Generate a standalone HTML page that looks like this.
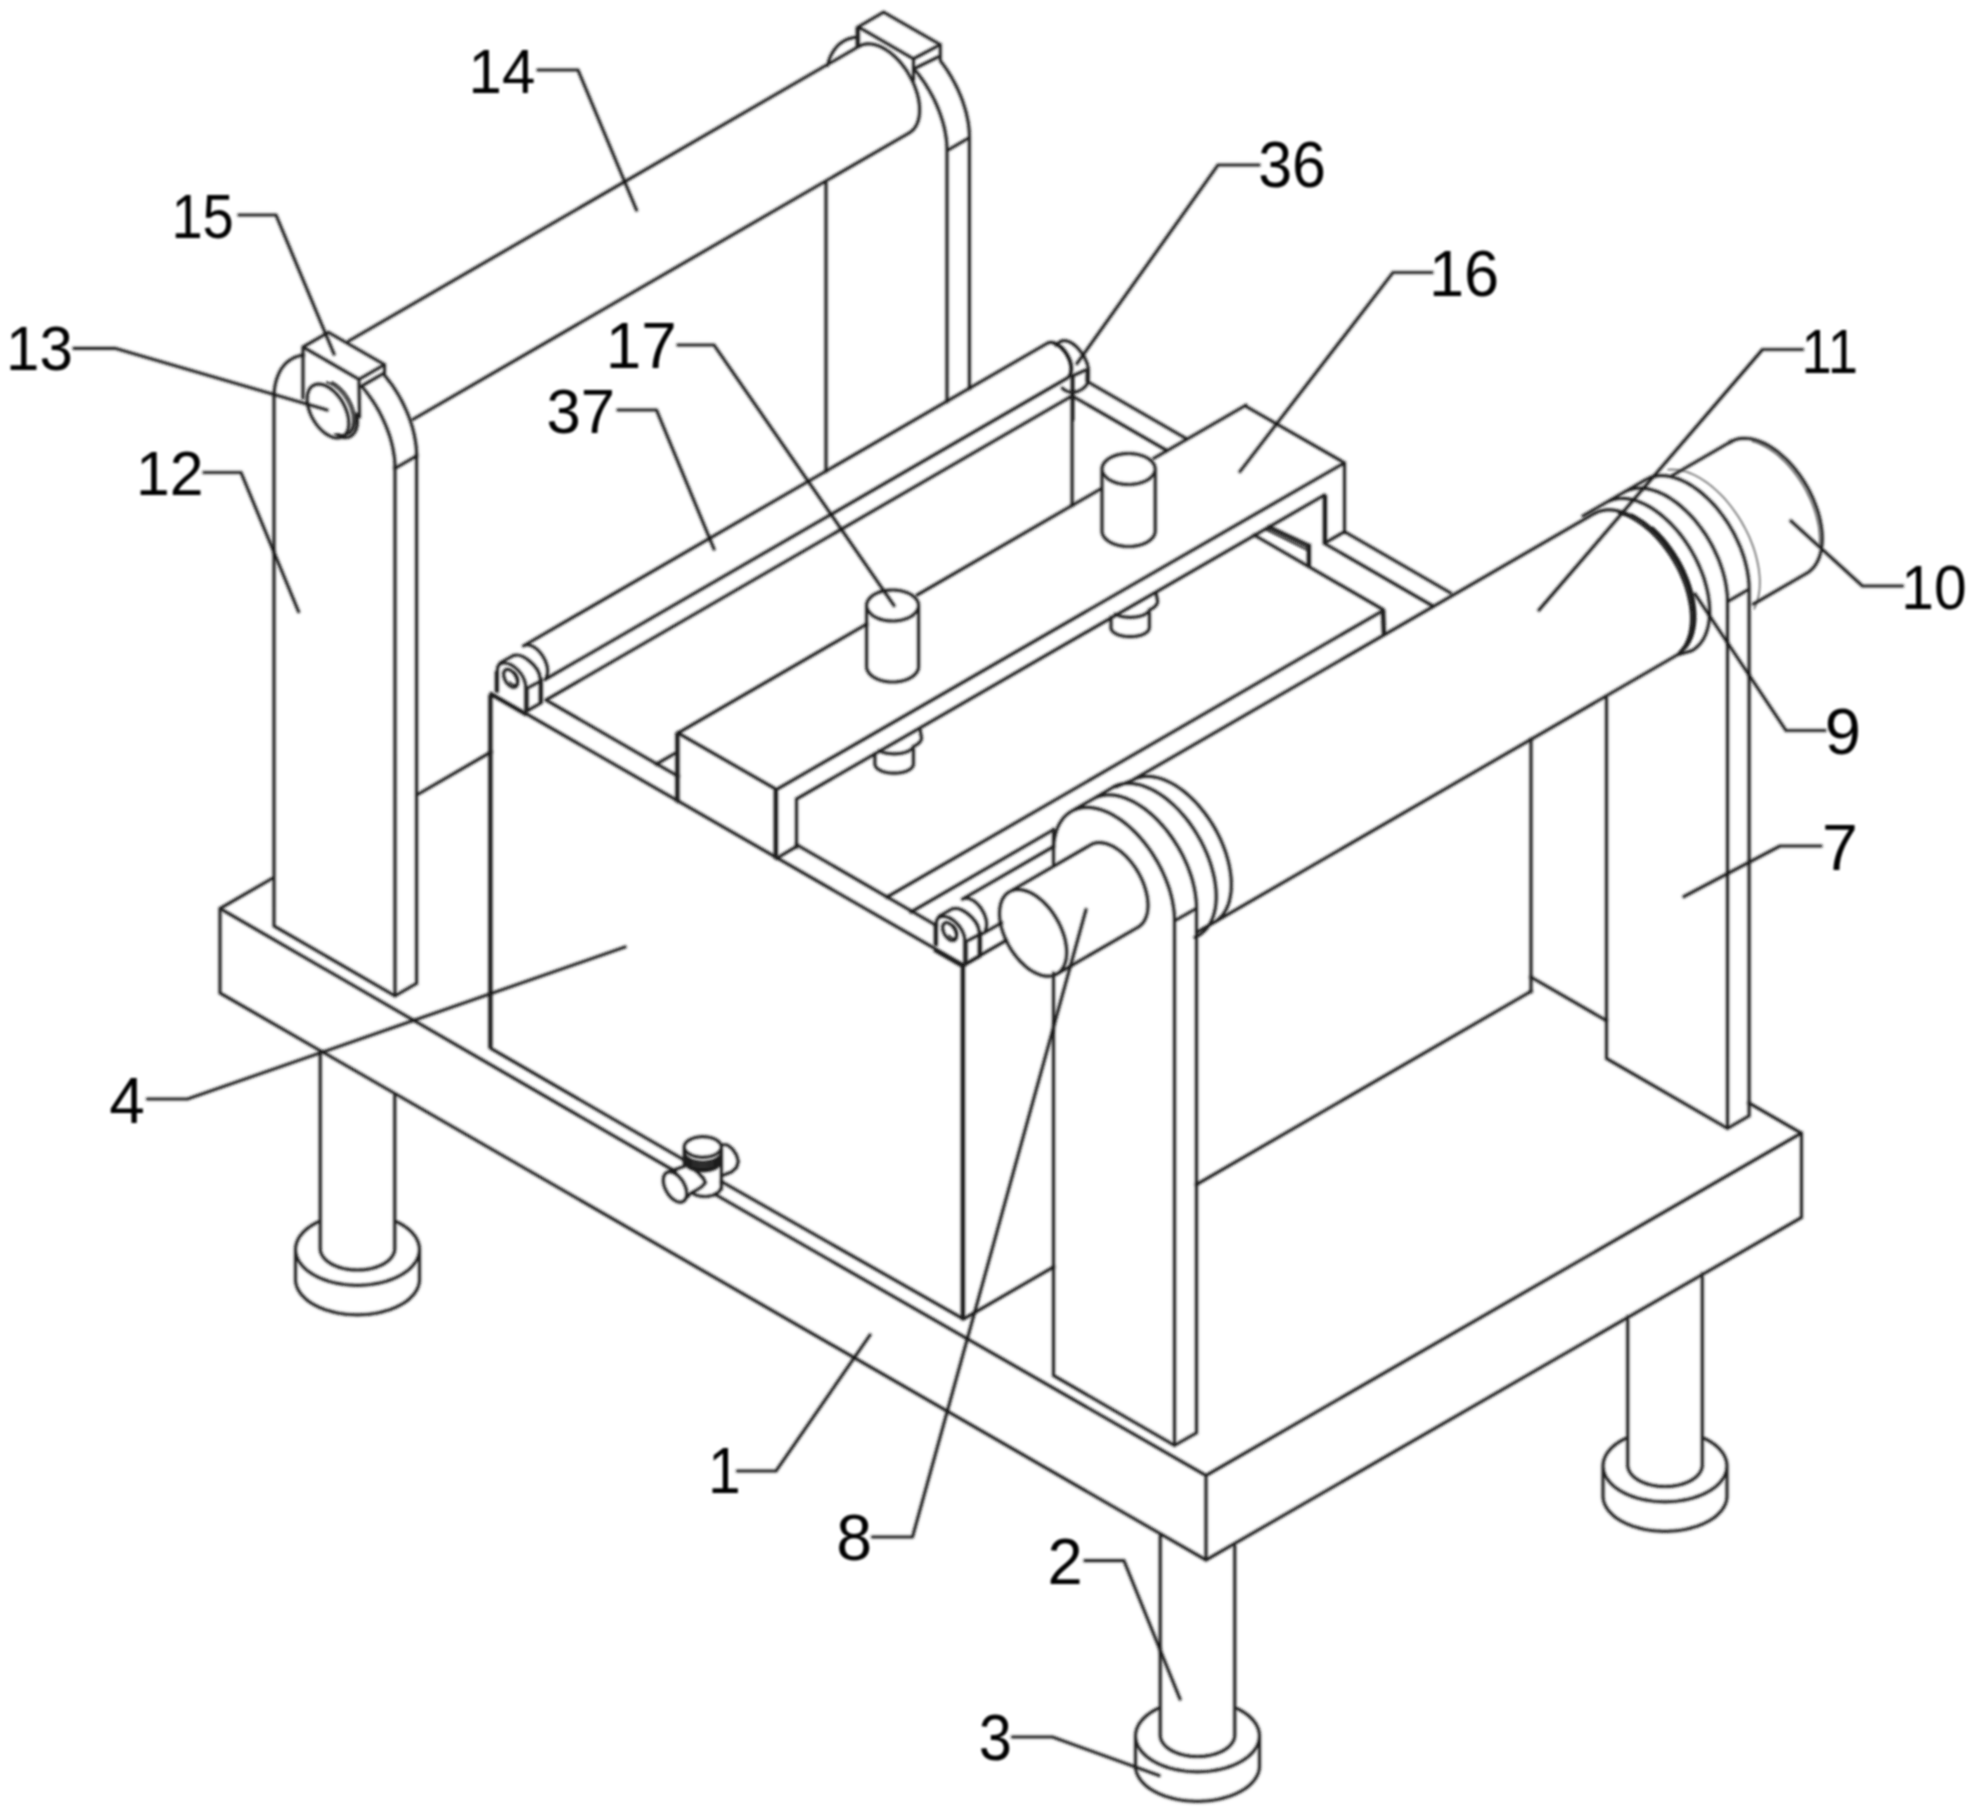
<!DOCTYPE html>
<html lang="en"><head><meta charset="utf-8"><title>Figure</title><style>html,body{margin:0;padding:0;background:#fff;}svg{display:block;}</style></head><body>
<svg width="1974" height="1811" viewBox="0 0 1974 1811">
<defs><filter id="soft" filterUnits="userSpaceOnUse" x="0" y="0" width="1974" height="1811"><feGaussianBlur stdDeviation="0.95"/></filter></defs>
<rect width="1974" height="1811" fill="#fff"/>
<g filter="url(#soft)">
<g fill="none" stroke="#7a7a7a" stroke-width="1.8" stroke-linecap="round" stroke-linejoin="round">
<path d="M1668.1 469.7 L1671.8 469.4 L1675.5 469.6 L1679.4 470.1 L1683.4 471 L1687.5 472.2 L1691.6 473.8 L1695.7 475.7 L1699.9 478 L1704.1 480.7 L1708.2 483.6 L1712.3 486.8 L1716.3 490.4 L1720.3 494.1 L1724.2 498.2 L1727.9 502.5 L1731.5 507 L1734.9 511.7 L1738.2 516.5 L1741.3 521.5 L1744.2 526.7 L1746.9 531.9 L1749.4 537.2 L1751.6 542.6 L1753.6 547.9 L1755.3 553.3 L1756.7 558.7 L1757.9 564 L1758.8 569.2 L1759.4 574.3 L1759.8 579.3 L1759.8 584.1 L1759.6 588.8 L1759 593.3 L1758.2 597.5 L1757.2 601.5 L1755.8 605.3 L1754.2 608.8 M1752.5 441.4 L1756 442.5 L1759.7 443.9 L1763.3 445.6 L1767 447.7 L1770.6 450 L1774.3 452.6 L1777.9 455.4 L1781.4 458.5 L1784.9 461.9 L1788.3 465.4 L1791.5 469.2 L1794.7 473.1 L1797.7 477.2 L1800.6 481.5 L1803.3 485.9 L1805.9 490.4 L1808.2 495 L1810.4 499.7 L1812.4 504.4 L1814.1 509.1 L1815.6 513.8 L1816.9 518.5 L1818 523.2 L1818.8 527.7 L1819.3 532.2 L1819.6 536.6 L1819.7 540.9 L1819.5 545"/>
</g>
<g fill="none" stroke="#222" stroke-width="1.8" stroke-linecap="round" stroke-linejoin="round">
<path d="M334.7 434 L336.2 434.5 L337.5 435 L338.9 435.3 L340.2 435.5 L341.5 435.5 L342.8 435.5 L344 435.3 L345.1 435 L346.2 434.5 L347.2 434 L348.2 433.3 L349.1 432.5 L349.9 431.6 L350.6 430.6 L351.2 429.5 L351.8 428.3 L352.2 427 L352.6 425.6 L352.8 424.1 L353 422.6 L353.1 421 L353 419.3 L352.9 417.6 L352.7 415.8 L352.4 414 L351.9 412.2 L351.4 410.4 L350.8 408.6 L350.2 406.7 L349.4 404.9 L348.5 403.1 L347.6 401.3 L346.6 399.5 L345.6 397.8 L344.4 396.2 L343.3 394.6 L342 393 L340.7 391.6 L339.4 390.2 L338.1 388.9 L336.7 387.7 L335.3 386.6 L333.9 385.6 L332.4 384.7 L331 383.9 L329.6 383.2 L328.2 382.6 L326.8 382.2 M337.7 433.8 L339.1 434.3 L340.5 434.7 L341.9 434.9 L343.3 435 L344.6 434.9 L345.8 434.8 L347 434.5 L348.1 434 L349.2 433.5 L350.2 432.8 L351.1 432 L351.9 431 L352.7 430 L353.3 428.8 L353.9 427.6 L354.4 426.3 L354.7 424.8 L355 423.3 L355.1 421.7 L355.2 420 L355.2 418.3 L355 416.5 L354.8 414.7 L354.4 412.9 L354 411 L353.5 409.1 L352.8 407.2 L352.1 405.3 L351.3 403.4 L350.4 401.6 L349.4 399.7 L348.4 397.9 L347.3 396.2 L346.1 394.5 L344.9 392.8 L343.6 391.3 L342.2 389.8 L340.9 388.4 L339.4 387.1 L338 385.9 L336.6 384.8 L335.1 383.8 L333.6 382.9 L332.2 382.1 M1073.5 376.8 L1073.5 420 M1052.9 343.5 L1053.8 343.8 L1054.7 344.2 L1055.7 344.6 L1056.6 345.2 L1057.6 345.7 L1058.5 346.4 L1059.4 347.1 L1060.4 347.9 L1061.3 348.8 L1062.1 349.7 L1063 350.7 L1063.8 351.7 L1064.6 352.8 L1065.4 353.8 L1066.1 355 L1066.7 356.1 L1067.3 357.3 L1067.9 358.5 L1068.4 359.7 L1068.9 361 L1069.3 362.2 L1069.6 363.4 L1069.9 364.6 L1070.1 365.8 L1070.3 367 L1070.4 368.1 L1070.4 369.2 L1070.4 370.3 L1070.3 371.3 L1070.1 372.3 L1069.9 373.2 L1069.6 374.1 L1069.3 374.9 L1068.9 375.7 L1068.4 376.4 L1067.9 377 M509.9 682.2 L510.9 683.1 L511.8 683.8 L512.8 684.4 L513.7 684.8 L514.6 685 L515.5 685 L516.2 684.7 L516.9 684.3 L517.4 683.7 L517.8 682.9 L518.1 682 L518.2 681 L518.1 679.8 L517.9 678.6 L517.5 677.4 L517 676.1 L516.4 674.9 L515.6 673.8 L514.8 672.8 L513.9 671.9 M948.9 935.5 L949.9 936.4 L950.8 937.1 L951.8 937.7 L952.7 938.1 L953.6 938.3 L954.5 938.3 L955.2 938 L955.9 937.6 L956.4 937 L956.8 936.2 L957.1 935.3 L957.2 934.3 L957.1 933.1 L956.9 931.9 L956.5 930.7 L956 929.4 L955.4 928.2 L954.6 927.1 L953.8 926.1 L952.9 925.2 M1267.2 527.9 L1309 548.1 M1264.8 529.2 L1308.5 550.7 M1618.5 513.1 L1622.4 514.3 L1626.3 515.8 L1630.2 517.7 L1634.2 519.9 L1638.1 522.4 L1642.1 525.2 L1645.9 528.2 L1649.8 531.6 L1653.5 535.2 L1657.2 539.1 L1660.7 543.1 L1664.1 547.4 L1667.4 551.9 L1670.5 556.5 L1673.4 561.2 L1676.1 566.1 L1678.7 571.1 L1681 576.1 L1683.1 581.2 L1685 586.3 L1686.6 591.4 L1687.9 596.5 L1689 601.5 L1689.9 606.4 L1690.5 611.3 L1690.8 616 L1690.8 620.6 L1690.6 625 L1690 629.2 L1689.3 633.2 L1688.2 637 L1686.9 640.6 L1685.4 643.9 L1683.6 646.9 L1681.5 649.6 L1679.3 652.1 M1631.6 514.4 L1635.5 516.5 L1639.5 518.9 L1643.5 521.5 L1647.4 524.5 L1651.3 527.8 L1655.1 531.3 L1658.8 535 L1662.4 539 L1665.9 543.2 L1669.3 547.6 L1672.5 552.2 L1675.5 556.9 L1678.3 561.8 L1681 566.7 L1683.4 571.8 L1685.6 576.8 L1687.6 582 L1689.4 587.1 L1690.9 592.2 L1692.1 597.3 L1693.1 602.3 L1693.8 607.2 L1694.2 612 L1694.4 616.7 L1694.3 621.2 L1693.9 625.6 L1693.2 629.7 L1692.3 633.7 L1691.1 637.4 L1689.7 640.8 L1688 644 L1686 646.9 L1683.9 649.5 L1681.5 651.7 L1678.9 653.7 M1652.8 527.3 L1656.5 530.8 L1660.2 534.6 L1663.8 538.6 L1667.3 542.8 L1670.6 547.2 L1673.8 551.7 L1676.8 556.5 L1679.7 561.3 L1682.3 566.2 L1684.7 571.2 L1686.9 576.3 L1688.9 581.4 L1690.6 586.5 L1692.1 591.6 L1693.3 596.7 L1694.3 601.7 L1695 606.6 L1695.4 611.4 L1695.6 616 L1695.5 620.5 L1695.1 624.9 L1694.4 629 L1693.5 632.9 L1692.3 636.6 L1690.9 640 L1689.2 643.2 L1687.3 646.1 L1685.1 648.7"/>
</g>
<defs><g id="lines">
<path d="M220 908.5 L220 993 M1206 1475.5 L1206 1560 M1801.5 1133 L1801.5 1217.5 M220 908.5 L675.5 1171.5 M716 1194.9 L1206 1475.5 M220 993 L1206 1560 M1206 1475.5 L1801.5 1133 M1206 1560 L1801.5 1217.5 M220 908.5 L274 877.3 M416.5 795.1 L491 752 M1801 1133 L1749 1103 M1606 1020.4 L1531 977.1 M320.2 1050.9 L320.2 1248.5 M394.8 1093.9 L394.8 1248.5 M394.8 1248.5 L394.7 1250 L394.5 1251.4 L394 1252.9 L393.4 1254.3 L392.6 1255.7 L391.7 1257.1 L390.6 1258.4 L389.4 1259.7 L388 1260.9 L386.4 1262.1 L384.8 1263.2 L383 1264.2 L381 1265.2 L379 1266.1 L376.9 1266.9 L374.7 1267.6 L372.4 1268.2 L370 1268.8 L367.6 1269.2 L365.1 1269.6 L362.6 1269.8 L360 1269.9 L357.5 1270 L355 1269.9 L352.4 1269.8 L349.9 1269.6 L347.4 1269.2 L345 1268.8 L342.6 1268.2 L340.3 1267.6 L338.1 1266.9 L336 1266.1 L334 1265.2 L332 1264.2 L330.2 1263.2 L328.6 1262.1 L327 1260.9 L325.6 1259.7 L324.4 1258.4 L323.3 1257.1 L322.4 1255.7 L321.6 1254.3 L321 1252.9 L320.5 1251.4 L320.3 1250 L320.2 1248.5 M394.8 1220.9 L398.1 1222.5 L401.3 1224.2 L404.2 1226 L406.9 1227.9 L409.4 1229.9 L411.6 1232 L413.6 1234.3 L415.3 1236.5 L416.7 1238.9 L417.8 1241.3 L418.7 1243.7 L419.2 1246.2 L419.5 1248.6 L419.4 1251.1 L419.1 1253.6 L418.5 1256.1 L417.5 1258.5 L416.3 1260.9 L414.8 1263.2 L413 1265.4 L411 1267.6 L408.7 1269.7 L406.1 1271.7 L403.3 1273.6 L400.3 1275.4 L397.1 1277 L393.7 1278.6 L390.2 1279.9 L386.4 1281.2 L382.6 1282.2 L378.6 1283.2 L374.5 1283.9 L370.3 1284.5 L366.1 1285 L361.8 1285.2 L357.5 1285.3 L353.2 1285.2 L348.9 1285 L344.7 1284.5 L340.5 1283.9 L336.4 1283.2 L332.4 1282.2 L328.6 1281.2 L324.8 1279.9 L321.3 1278.6 L317.9 1277 L314.7 1275.4 L311.7 1273.6 L308.9 1271.7 L306.3 1269.7 L304 1267.6 L302 1265.4 L300.2 1263.2 L298.7 1260.9 L297.5 1258.5 L296.5 1256.1 L295.9 1253.6 L295.6 1251.1 L295.5 1248.6 L295.8 1246.2 L296.3 1243.7 L297.2 1241.3 L298.3 1238.9 L299.7 1236.5 L301.4 1234.3 L303.4 1232 L305.6 1229.9 L308.1 1227.9 L310.8 1226 L313.7 1224.2 L316.9 1222.5 L320.2 1220.9 M295.5 1249.5 L295.5 1279.5 M419.5 1249.5 L419.5 1279.5 M419.5 1279.5 L419.4 1281.9 L418.9 1284.3 L418.2 1286.7 L417.2 1289 L415.9 1291.3 L414.4 1293.6 L412.5 1295.7 L410.5 1297.8 L408.2 1299.9 L405.6 1301.8 L402.8 1303.6 L399.8 1305.3 L396.6 1306.9 L393.3 1308.3 L389.7 1309.7 L386 1310.8 L382.2 1311.9 L378.3 1312.8 L374.2 1313.5 L370.1 1314.1 L365.9 1314.5 L361.7 1314.7 L357.5 1314.8 L353.3 1314.7 L349.1 1314.5 L344.9 1314.1 L340.8 1313.5 L336.7 1312.8 L332.8 1311.9 L329 1310.8 L325.3 1309.7 L321.7 1308.3 L318.4 1306.9 L315.2 1305.3 L312.2 1303.6 L309.4 1301.8 L306.8 1299.9 L304.5 1297.8 L302.5 1295.7 L300.6 1293.6 L299.1 1291.3 L297.8 1289 L296.8 1286.7 L296.1 1284.3 L295.6 1281.9 L295.5 1279.5 M1160.2 1535.8 L1160.2 1735 M1234.8 1543.4 L1234.8 1735 M1234.8 1735 L1234.7 1736.5 L1234.5 1737.9 L1234 1739.4 L1233.4 1740.8 L1232.6 1742.2 L1231.7 1743.6 L1230.6 1744.9 L1229.4 1746.2 L1228 1747.4 L1226.4 1748.6 L1224.8 1749.7 L1223 1750.7 L1221 1751.7 L1219 1752.6 L1216.9 1753.4 L1214.7 1754.1 L1212.4 1754.7 L1210 1755.3 L1207.6 1755.7 L1205.1 1756.1 L1202.6 1756.3 L1200 1756.4 L1197.5 1756.5 L1195 1756.4 L1192.4 1756.3 L1189.9 1756.1 L1187.4 1755.7 L1185 1755.3 L1182.6 1754.7 L1180.3 1754.1 L1178.1 1753.4 L1176 1752.6 L1174 1751.7 L1172 1750.7 L1170.2 1749.7 L1168.6 1748.6 L1167 1747.4 L1165.6 1746.2 L1164.4 1744.9 L1163.3 1743.6 L1162.4 1742.2 L1161.6 1740.8 L1161 1739.4 L1160.5 1737.9 L1160.3 1736.5 L1160.2 1735 M1234.8 1707.4 L1238.1 1709 L1241.3 1710.7 L1244.2 1712.5 L1246.9 1714.4 L1249.4 1716.4 L1251.6 1718.5 L1253.6 1720.8 L1255.3 1723 L1256.7 1725.4 L1257.8 1727.8 L1258.7 1730.2 L1259.2 1732.7 L1259.5 1735.1 L1259.4 1737.6 L1259.1 1740.1 L1258.5 1742.6 L1257.5 1745 L1256.3 1747.4 L1254.8 1749.7 L1253 1751.9 L1251 1754.1 L1248.7 1756.2 L1246.1 1758.2 L1243.3 1760.1 L1240.3 1761.9 L1237.1 1763.5 L1233.7 1765.1 L1230.2 1766.4 L1226.4 1767.7 L1222.6 1768.7 L1218.6 1769.7 L1214.5 1770.4 L1210.3 1771 L1206.1 1771.5 L1201.8 1771.7 L1197.5 1771.8 L1193.2 1771.7 L1188.9 1771.5 L1184.7 1771 L1180.5 1770.4 L1176.4 1769.7 L1172.4 1768.7 L1168.6 1767.7 L1164.8 1766.4 L1161.3 1765.1 L1157.9 1763.5 L1154.7 1761.9 L1151.7 1760.1 L1148.9 1758.2 L1146.3 1756.2 L1144 1754.1 L1142 1751.9 L1140.2 1749.7 L1138.7 1747.4 L1137.5 1745 L1136.5 1742.6 L1135.9 1740.1 L1135.6 1737.6 L1135.5 1735.1 L1135.8 1732.7 L1136.3 1730.2 L1137.2 1727.8 L1138.3 1725.4 L1139.7 1723 L1141.4 1720.8 L1143.4 1718.5 L1145.6 1716.4 L1148.1 1714.4 L1150.8 1712.5 L1153.7 1710.7 L1156.9 1709 L1160.2 1707.4 M1135.5 1736 L1135.5 1766 M1259.5 1736 L1259.5 1766 M1259.5 1766 L1259.4 1768.4 L1258.9 1770.8 L1258.2 1773.2 L1257.2 1775.5 L1255.9 1777.8 L1254.4 1780.1 L1252.5 1782.2 L1250.5 1784.3 L1248.2 1786.4 L1245.6 1788.3 L1242.8 1790.1 L1239.8 1791.8 L1236.6 1793.4 L1233.3 1794.8 L1229.7 1796.2 L1226 1797.3 L1222.2 1798.4 L1218.3 1799.3 L1214.2 1800 L1210.1 1800.6 L1205.9 1801 L1201.7 1801.2 L1197.5 1801.3 L1193.3 1801.2 L1189.1 1801 L1184.9 1800.6 L1180.8 1800 L1176.7 1799.3 L1172.8 1798.4 L1169 1797.3 L1165.3 1796.2 L1161.7 1794.8 L1158.4 1793.4 L1155.2 1791.8 L1152.2 1790.1 L1149.4 1788.3 L1146.8 1786.4 L1144.5 1784.3 L1142.5 1782.2 L1140.6 1780.1 L1139.1 1777.8 L1137.8 1775.5 L1136.8 1773.2 L1136.1 1770.8 L1135.6 1768.4 L1135.5 1766 M1627.7 1316.5 L1627.7 1465 M1702.3 1273.5 L1702.3 1465 M1702.3 1465 L1702.2 1466.5 L1702 1467.9 L1701.5 1469.4 L1700.9 1470.8 L1700.1 1472.2 L1699.2 1473.6 L1698.1 1474.9 L1696.9 1476.2 L1695.5 1477.4 L1693.9 1478.6 L1692.3 1479.7 L1690.5 1480.7 L1688.5 1481.7 L1686.5 1482.6 L1684.4 1483.4 L1682.2 1484.1 L1679.9 1484.7 L1677.5 1485.3 L1675.1 1485.7 L1672.6 1486.1 L1670.1 1486.3 L1667.5 1486.4 L1665 1486.5 L1662.5 1486.4 L1659.9 1486.3 L1657.4 1486.1 L1654.9 1485.7 L1652.5 1485.3 L1650.1 1484.7 L1647.8 1484.1 L1645.6 1483.4 L1643.5 1482.6 L1641.5 1481.7 L1639.5 1480.7 L1637.7 1479.7 L1636.1 1478.6 L1634.5 1477.4 L1633.1 1476.2 L1631.9 1474.9 L1630.8 1473.6 L1629.9 1472.2 L1629.1 1470.8 L1628.5 1469.4 L1628 1467.9 L1627.8 1466.5 L1627.7 1465 M1702.3 1437.4 L1705.6 1439 L1708.8 1440.7 L1711.7 1442.5 L1714.4 1444.4 L1716.9 1446.4 L1719.1 1448.5 L1721.1 1450.8 L1722.8 1453 L1724.2 1455.4 L1725.3 1457.8 L1726.2 1460.2 L1726.7 1462.7 L1727 1465.1 L1726.9 1467.6 L1726.6 1470.1 L1726 1472.6 L1725 1475 L1723.8 1477.4 L1722.3 1479.7 L1720.5 1481.9 L1718.5 1484.1 L1716.2 1486.2 L1713.6 1488.2 L1710.8 1490.1 L1707.8 1491.9 L1704.6 1493.5 L1701.2 1495.1 L1697.7 1496.4 L1693.9 1497.7 L1690.1 1498.7 L1686.1 1499.7 L1682 1500.4 L1677.8 1501 L1673.6 1501.5 L1669.3 1501.7 L1665 1501.8 L1660.7 1501.7 L1656.4 1501.5 L1652.2 1501 L1648 1500.4 L1643.9 1499.7 L1639.9 1498.7 L1636.1 1497.7 L1632.3 1496.4 L1628.8 1495.1 L1625.4 1493.5 L1622.2 1491.9 L1619.2 1490.1 L1616.4 1488.2 L1613.8 1486.2 L1611.5 1484.1 L1609.5 1481.9 L1607.7 1479.7 L1606.2 1477.4 L1605 1475 L1604 1472.6 L1603.4 1470.1 L1603.1 1467.6 L1603 1465.1 L1603.3 1462.7 L1603.8 1460.2 L1604.7 1457.8 L1605.8 1455.4 L1607.2 1453 L1608.9 1450.8 L1610.9 1448.5 L1613.1 1446.4 L1615.6 1444.4 L1618.3 1442.5 L1621.2 1440.7 L1624.4 1439 L1627.7 1437.4 M1603 1466 L1603 1496 M1727 1466 L1727 1496 M1727 1496 L1726.9 1498.4 L1726.4 1500.8 L1725.7 1503.2 L1724.7 1505.5 L1723.4 1507.8 L1721.9 1510.1 L1720 1512.2 L1718 1514.3 L1715.7 1516.4 L1713.1 1518.3 L1710.3 1520.1 L1707.3 1521.8 L1704.1 1523.4 L1700.8 1524.8 L1697.2 1526.2 L1693.5 1527.3 L1689.7 1528.4 L1685.8 1529.3 L1681.7 1530 L1677.6 1530.6 L1673.4 1531 L1669.2 1531.2 L1665 1531.3 L1660.8 1531.2 L1656.6 1531 L1652.4 1530.6 L1648.3 1530 L1644.2 1529.3 L1640.3 1528.4 L1636.5 1527.3 L1632.8 1526.2 L1629.2 1524.8 L1625.9 1523.4 L1622.7 1521.8 L1619.7 1520.1 L1616.9 1518.3 L1614.3 1516.4 L1612 1514.3 L1610 1512.2 L1608.1 1510.1 L1606.6 1507.8 L1605.3 1505.5 L1604.3 1503.2 L1603.6 1500.8 L1603.1 1498.4 L1603 1496 M274 398.1 L274 926 M395 467.9 L395 995.9 M416.6 455.4 L416.6 983.4 M274 926 L395 995.9 M395 995.9 L416.6 983.4 M395 468.4 L416.6 455.9 M274 398.1 L274.1 393.4 L274.5 388.9 L275.2 384.6 L276.2 380.5 L277.5 376.7 L279 373.1 L280.7 369.8 L282.8 366.8 L285 364.2 L287.5 361.8 L290.2 359.8 L293.2 358.1 L296.3 356.7 L299.5 355.8 L303 355.1"/>
<path d="M362 386.6 L365.6 391 L369.1 395.7 L372.5 400.5 L375.6 405.4 L378.6 410.5 L381.3 415.7 L383.8 421 L386.1 426.3 L388.2 431.7 L390 437 L391.5 442.4 L392.8 447.7 L393.7 452.9 L394.5 458 L394.9 463.1 L395 467.9 M385.5 376.4 L388.9 380.8 L392.3 385.3 L395.4 390 L398.4 394.9 L401.2 399.8 L403.7 404.9 L406.1 410 L408.3 415.2 L410.2 420.4 L411.9 425.6 L413.3 430.7 L414.5 435.9 L415.4 440.9 L416.1 445.9 L416.5 450.7 L416.6 455.4 M303 347 L328.5 332.3 L384.5 364.6 L359 379.3 Z M303 347 L303 398 M359 379.3 L359.5 417 M384.5 364.6 L384.5 375.5 M360 387 L384 373.2 M342.8 436.5 L343.7 435.9 L344.6 435.1 L345.5 434.3 L346.2 433.3 L346.9 432.2 L347.4 431 L347.9 429.7 L348.3 428.3 L348.6 426.8 L348.8 425.3 L348.9 423.7 L348.8 422 L348.7 420.3 L348.5 418.5 L348.2 416.7 L347.8 414.9 L347.3 413 L346.7 411.2 L346 409.3 L345.3 407.5 L344.4 405.6 L343.5 403.8 L342.5 402 L341.4 400.3 L340.3 398.6 L339.1 397 L337.9 395.5 L336.6 394 L335.2 392.6 L333.9 391.3 L332.5 390.1 L331 388.9 L329.6 387.9 L328.2 387 L326.7 386.2 L325.3 385.6 L323.9 385 L322.5 384.6 L321.1 384.3 L319.8 384.1 L318.5 384.1 L317.2 384.2 L316 384.4 L314.9 384.7 L313.8 385.2 L312.7 385.8 L311.8 386.5 L310.9 387.3 L310.1 388.2 L309.4 389.3 L308.8 390.4 L308.3 391.7 L307.9 393 L307.5 394.4 L307.3 395.9 L307.2 397.5 L307.1 399.2 L307.2 400.9 L307.4 402.6 L307.6 404.4 L308 406.2 L308.4 408 L309 409.9 L309.6 411.8 L310.3 413.6 L311.1 415.5 L312 417.3 L313 419.1 L314 420.8 L315.1 422.5 L316.3 424.2 L317.5 425.8 L318.8 427.3 L320.1 428.7 L321.5 430.1 L322.8 431.4 L324.2 432.5 L325.7 433.6 L327.1 434.5 L328.5 435.4 L330 436.1 L331.4 436.7 L332.8 437.2 L334.2 437.6 L335.6 437.8 L336.9 437.9 L338.2 437.9 L339.4 437.8 L340.6 437.5 L341.7 437.1 L342.8 436.5 M339.7 436.8 L341.2 437.2 L342.6 437.5 L344 437.6 L345.4 437.7 L346.7 437.5 L348 437.3 L349.2 436.9 L350.4 436.4 L351.4 435.7 L352.4 434.9 L353.4 434 L354.2 433 L354.9 431.9 L355.6 430.7 L356.2 429.4 L356.6 427.9 L357 426.4 L357.3 424.8 L357.4 423.2 L357.5 421.4 L357.4 419.6 L357.3 417.8 L357 415.9 L356.7 413.9 M826 180.9 L826 471.1 M947 150.1 L947 401.2 M969.4 137.2 L969.4 388.3 M947 150.6 L969.4 137.7 M858.3 26.8 L883.6 12.2 L940.3 44.6 L913.5 58.8 Z M858.3 26.8 L858.3 46 M857.1 27.8 L857.1 46.5 M913.5 58.8 L913.5 80 M940.3 44.6 L940.3 60 M915 68.2 L938.5 56.8 M827.5 65.5 L828.6 61.5 L829.9 57.8 L831.5 54.3 L833.4 51.1 L835.5 48.2 L837.8 45.6 L840.4 43.3 L843.2 41.4 L846.2 39.8 L849.4 38.6 L852.7 37.7 L856.2 37.2 M915.5 70.6 L919 75 L922.3 79.6 L925.5 84.3 L928.5 89.2 L931.3 94.1 L934 99.2 L936.4 104.4 L938.6 109.6 L940.5 114.8 L942.2 120 L943.7 125.2 L944.9 130.4 L945.8 135.5 L946.5 140.5 L946.9 145.4 L947 150.1 M940.5 60.9 L943.9 65.5 L947.2 70.3 L950.3 75.2 L953.2 80.3 L955.9 85.4 L958.4 90.7 L960.7 96 L962.7 101.3 L964.4 106.6 L966 111.9 L967.2 117.2 L968.2 122.3 L968.9 127.4 L969.3 132.4 L969.4 137.2 M859.3 46.2 L348.5 341.1 M909.3 132.8 L413 419.3 M859.3 46.2 L861.1 45.3 L862.9 44.6 L864.9 44.2 L867 43.9 L869.1 43.9 L871.3 44 L873.6 44.4 L875.9 45 L878.3 45.8 L880.7 46.8 L883.1 48 L885.5 49.4 L887.9 51 L890.3 52.7 L892.7 54.7 L895 56.8 L897.3 59 L899.5 61.4 L901.6 63.9 L903.7 66.6 L905.7 69.3 L907.5 72.1 L909.3 75.1 L910.9 78.1 L912.5 81.1 L913.9 84.2 L915.1 87.3 L916.2 90.4 L917.2 93.5 L918 96.6 L918.7 99.7 L919.1 102.7 L919.5 105.6 L919.6 108.5 L919.6 111.3 L919.5 114 L919.1 116.6 L918.7 119 L918 121.3 L917.2 123.5 L916.2 125.5 L915.1 127.3 L913.9 129 L912.5 130.4 L910.9 131.7 L909.3 132.8 M491 693.5 L491 1048.5 M489.8 695.5 L489.8 1047.5 M963.5 965 L963.5 1319 M962.2 965 L962.2 1319 M491 1048.5 L684 1159.9 M722 1181.9 L963.5 1319 M491 693.5 L963.5 965 M492.5 695.6 L525.5 714.6 M935 950.8 L962.5 966.6 M963.5 1319 L1053.5 1267 M1196.5 1184.5 L1531 991.4 M546 700 L678 776.2 M796.5 844.6 L935.8 925.1 M546 700 L1072.1 395.8 M1072.1 376.3 L1072.1 505"/>
<path d="M1089.2 382.6 L1185.5 438.2 M1074.6 397.3 L1166 450 M523.5 645.8 L1047.5 343.2 M545 679.5 L1066.5 378.5 M1047.5 343.2 L1048.2 342.9 L1049 342.6 L1049.8 342.4 L1050.6 342.3 L1051.5 342.3 L1052.4 342.4 L1053.3 342.5 L1054.2 342.8 L1055.2 343.1 L1056.2 343.5 L1057.1 344 L1058.1 344.6 L1059.1 345.3 L1060.1 346 L1061 346.8 L1061.9 347.6 L1062.9 348.5 L1063.8 349.5 L1064.6 350.6 L1065.4 351.6 L1066.2 352.7 L1067 353.9 L1067.7 355.1 L1068.3 356.3 L1068.9 357.5 L1069.5 358.8 L1070 360.1 L1070.4 361.3 L1070.8 362.6 L1071.1 363.8 L1071.3 365.1 L1071.5 366.3 L1071.6 367.4 L1071.6 368.6 L1071.6 369.7 L1071.5 370.8 L1071.4 371.8 L1071.1 372.8 L1070.8 373.7 L1070.5 374.5 L1070.1 375.3 L1069.6 376 L1069.1 376.6 L1068.5 377.2 L1067.8 377.7 L1067.1 378.1 L1066.4 378.4 M1056.3 345.3 C1059 341.5 1063 340.3 1066.5 340.9 C1075 342.5 1086.5 356 1088.4 368.8 M1088.4 368.8 L1088.3 381.7 M1087.1 370 L1087 381.5 M1088.4 381.7 C1086 387.5 1079 392.5 1072.6 392.3 C1068.5 392.2 1064.5 390.5 1062.4 388.2 M1072.3 376 L1088 368.9 M497.4 670 L497.4 691.5 M496.2 672 L496.2 691 M497.4 670 C497.4 664.5 500.5 662.8 505 663 C513 663.5 524.5 674 525.8 686 M525.8 686 L525.8 711.8 M527.1 688 L527.1 711 M514.4 655.4 C521.8 653 538.9 665.5 540.2 678 M540.2 678 L540.2 702.5 M541.4 679 L541.4 702 M500.2 662.9 L513.6 655.3 M526.3 688.6 L540.2 681.4 M526.8 711 L541.2 702.8 M515.5 686.8 L516.3 686.2 L516.9 685.4 L517.3 684.3 L517.5 683.1 L517.5 681.8 L517.3 680.3 L517 678.8 L516.4 677.3 L515.7 675.8 L514.8 674.4 L513.9 673.1 L512.8 672 L511.6 671 L510.5 670.2 L509.3 669.7 L508.2 669.4 L507.1 669.4 L506.1 669.6 L505.3 670.1 L504.6 670.8 L504.1 671.7 L503.8 672.9 L503.7 674.1 L503.7 675.5 L504 677 L504.5 678.5 L505.1 680 L505.9 681.5 L506.8 682.9 L507.9 684.1 L509 685.2 L510.2 686 L511.3 686.7 L512.5 687.1 L513.6 687.2 L514.6 687.1 L515.5 686.8 M523.5 645.8 L524.2 645.4 L525 645.2 L525.8 645 L526.6 644.9 L527.5 644.8 L528.4 644.9 L529.3 645.1 L530.2 645.3 L531.2 645.7 L532.1 646.1 L533.1 646.6 L534.1 647.1 L535.1 647.8 L536 648.5 L537 649.3 L537.9 650.1 L538.8 651.1 L539.7 652 L540.6 653.1 L541.4 654.1 L542.2 655.2 L542.9 656.4 L543.6 657.6 L544.3 658.8 L544.9 660 L545.5 661.3 L545.9 662.5 L546.4 663.8 L546.8 665 L547.1 666.3 L547.3 667.5 L547.5 668.7 L547.6 669.9 L547.6 671.1 L547.6 672.2 L547.5 673.2 L547.4 674.3 L547.2 675.2 L546.9 676.1 L546.5 677 M936.4 923.3 L936.4 944.8 M935.2 925.3 L935.2 944.3 M936.4 923.3 C936.4 917.8 939.5 916.1 944 916.3 C952 916.8 963.5 927.3 964.8 939.3 M964.8 939.3 L964.8 965.1 M966.1 941.3 L966.1 964.3 M953.4 908.7 C960.8 906.3 977.9 918.8 979.2 931.3 M979.2 931.3 L979.2 955.8 M980.4 932.3 L980.4 955.3 M939.2 916.2 L952.6 908.6 M965.3 941.9 L979.2 934.7 M965.8 964.3 L980.2 956.1 M954.5 940.1 L955.3 939.5 L955.9 938.7 L956.3 937.6 L956.5 936.4 L956.5 935.1 L956.3 933.6 L956 932.1 L955.4 930.6 L954.7 929.1 L953.8 927.7 L952.9 926.4 L951.8 925.3 L950.6 924.3 L949.5 923.5 L948.3 923 L947.2 922.7 L946.1 922.7 L945.1 922.9 L944.3 923.4 L943.6 924.1 L943.1 925 L942.8 926.2 L942.7 927.4 L942.7 928.8 L943 930.3 L943.5 931.8 L944.1 933.3 L944.9 934.8 L945.8 936.2 L946.9 937.4 L948 938.5 L949.2 939.3 L950.3 940 L951.5 940.4 L952.6 940.5 L953.6 940.4 L954.5 940.1 M962.5 899.1 L963.2 898.7 L964 898.5 L964.8 898.3 L965.6 898.2 L966.5 898.1 L967.4 898.2 L968.3 898.4 L969.2 898.6 L970.2 899 L971.1 899.4 L972.1 899.9 L973.1 900.4 L974.1 901.1 L975 901.8 L976 902.6 L976.9 903.4 L977.8 904.4 L978.7 905.3 L979.6 906.4 L980.4 907.4 L981.2 908.5 L981.9 909.7 L982.6 910.9 L983.3 912.1 L983.9 913.3 L984.5 914.6 L984.9 915.8 L985.4 917.1 L985.8 918.3 L986.1 919.6 L986.3 920.8 L986.5 922 L986.6 923.2 L986.6 924.4 L986.6 925.5 L986.5 926.5 L986.4 927.6 L986.2 928.5 L985.9 929.4 L985.5 930.3 M962.5 899.1 L1053.6 846.5 M980 935.1 L1001.5 922.8 M963.5 965 L1006 940.5 M678 733 L866.6 624.1"/>
<path d="M917.1 595 L1102 488.2 M1153.7 458.4 L1246 405.1 M678 733 L776.5 789.5 M776.5 789.5 L1344.5 462.8 M1246 406.3 L1344.5 462.8 M678 733 L678 801.5 M676.7 734 L676.7 800.5 M776.5 789.5 L776.5 858.3 M775.1 790.5 L775.1 857.3 M796.5 799 L796.5 847.5 M776.5 858.3 L796.5 846.5 M796.5 799 L1324.2 495.2 M1344.5 462.8 L1344.5 531.7 M1324.2 495.2 L1324.2 543.3 M1325.6 496.2 L1325.6 542.5 M1324.2 543.3 L1344.5 531.7 M1344.5 531.7 L1450.5 592.9 M1325.2 543.8 L1432 605.5 M918.6 605.5 L918.5 606.6 L918.4 607.6 L918 608.7 L917.6 609.7 L917.1 610.7 L916.4 611.7 L915.6 612.7 L914.7 613.6 L913.7 614.5 L912.6 615.4 L911.5 616.2 L910.2 616.9 L908.8 617.6 L907.4 618.3 L905.9 618.8 L904.3 619.3 L902.7 619.8 L901 620.2 L899.3 620.5 L897.5 620.7 L895.7 620.9 L893.9 621 L892.2 621 L890.4 620.9 L888.6 620.8 L886.8 620.6 L885.1 620.3 L883.4 620 L881.7 619.6 L880.1 619.1 L878.6 618.6 L877.1 617.9 L875.7 617.3 L874.4 616.6 L873.1 615.8 L872 615 L871 614.1 L870 613.2 L869.2 612.2 L868.5 611.2 L867.8 610.2 L867.4 609.2 L867 608.2 L866.7 607.1 L866.6 606 L866.6 605 L866.7 603.9 L867 602.8 L867.4 601.8 L867.8 600.8 L868.5 599.8 L869.2 598.8 L870 597.8 L871 596.9 L872 596 L873.1 595.2 L874.4 594.4 L875.7 593.7 L877.1 593.1 L878.6 592.4 L880.1 591.9 L881.7 591.4 L883.4 591 L885.1 590.7 L886.8 590.4 L888.6 590.2 L890.4 590.1 L892.2 590 L893.9 590 L895.7 590.1 L897.5 590.3 L899.3 590.5 L901 590.8 L902.7 591.2 L904.3 591.7 L905.9 592.2 L907.4 592.7 L908.8 593.4 L910.2 594.1 L911.5 594.8 L912.6 595.6 L913.7 596.5 L914.7 597.4 L915.6 598.3 L916.4 599.3 L917.1 600.3 L917.6 601.3 L918 602.3 L918.4 603.4 L918.5 604.4 L918.6 605.5 M866.6 605.5 L866.6 666.5 M918.6 605.5 L918.6 666.5 M918.6 666.5 L918.5 667.6 L918.4 668.6 L918.1 669.7 L917.6 670.7 L917.1 671.7 L916.4 672.7 L915.7 673.6 L914.8 674.6 L913.8 675.4 L912.8 676.3 L911.6 677.1 L910.3 677.8 L909 678.5 L907.6 679.2 L906.1 679.7 L904.6 680.3 L903 680.7 L901.3 681.1 L899.6 681.4 L897.9 681.7 L896.1 681.9 L894.4 682 L892.6 682 L890.8 682 L889.1 681.9 L887.3 681.7 L885.6 681.4 L883.9 681.1 L882.2 680.7 L880.6 680.3 L879.1 679.7 L877.6 679.2 L876.2 678.5 L874.9 677.8 L873.6 677.1 L872.4 676.3 L871.4 675.4 L870.4 674.6 L869.5 673.6 L868.8 672.7 L868.1 671.7 L867.6 670.7 L867.1 669.7 L866.8 668.6 L866.7 667.6 L866.6 666.5 M1155.2 469 L1155.1 470.1 L1154.9 471.1 L1154.6 472.2 L1154.2 473.2 L1153.6 474.2 L1152.9 475.2 L1152.2 476.2 L1151.2 477.1 L1150.2 478 L1149.1 478.9 L1147.9 479.7 L1146.6 480.4 L1145.2 481.1 L1143.7 481.8 L1142.2 482.3 L1140.6 482.8 L1138.9 483.3 L1137.2 483.7 L1135.4 484 L1133.6 484.2 L1131.8 484.4 L1130 484.5 L1128.1 484.5 L1126.3 484.4 L1124.5 484.3 L1122.7 484.1 L1120.9 483.8 L1119.2 483.5 L1117.5 483.1 L1115.8 482.6 L1114.3 482.1 L1112.7 481.4 L1111.3 480.8 L1110 480.1 L1108.7 479.3 L1107.5 478.5 L1106.5 477.6 L1105.5 476.7 L1104.6 475.7 L1103.9 474.7 L1103.3 473.7 L1102.8 472.7 L1102.4 471.7 L1102.1 470.6 L1102 469.5 L1102 468.5 L1102.1 467.4 L1102.4 466.3 L1102.8 465.3 L1103.3 464.3 L1103.9 463.3 L1104.6 462.3 L1105.5 461.3 L1106.5 460.4 L1107.5 459.5 L1108.7 458.7 L1110 457.9 L1111.3 457.2 L1112.7 456.6 L1114.3 455.9 L1115.8 455.4 L1117.5 454.9 L1119.2 454.5 L1120.9 454.2 L1122.7 453.9 L1124.5 453.7 L1126.3 453.6 L1128.1 453.5 L1130 453.5 L1131.8 453.6 L1133.6 453.8 L1135.4 454 L1137.2 454.3 L1138.9 454.7 L1140.6 455.2 L1142.2 455.7 L1143.7 456.2 L1145.2 456.9 L1146.6 457.6 L1147.9 458.3 L1149.1 459.1 L1150.2 460 L1151.2 460.9 L1152.2 461.8 L1152.9 462.8 L1153.6 463.8 L1154.2 464.8 L1154.6 465.8 L1154.9 466.9 L1155.1 467.9 L1155.2 469 M1102 469 L1102 531 M1155.2 469 L1155.2 531 M1155.2 531 L1155.1 532.1 L1155 533.1 L1154.6 534.2 L1154.2 535.2 L1153.7 536.2 L1153 537.2 L1152.2 538.1 L1151.3 539.1 L1150.3 539.9 L1149.2 540.8 L1148 541.6 L1146.8 542.3 L1145.4 543 L1143.9 543.7 L1142.4 544.2 L1140.8 544.8 L1139.2 545.2 L1137.5 545.6 L1135.8 545.9 L1134 546.2 L1132.2 546.4 L1130.4 546.5 L1128.6 546.5 L1126.8 546.5 L1125 546.4 L1123.2 546.2 L1121.4 545.9 L1119.7 545.6 L1118 545.2 L1116.4 544.8 L1114.8 544.2 L1113.3 543.7 L1111.8 543 L1110.4 542.3 L1109.2 541.6 L1108 540.8 L1106.9 539.9 L1105.9 539.1 L1105 538.1 L1104.2 537.2 L1103.5 536.2 L1103 535.2 L1102.6 534.2 L1102.2 533.1 L1102.1 532.1 L1102 531 M874.9 753.5 L874.9 764.4 M913.4 748.6 L913.4 764 M913.4 764.2 L913.3 764.8 L913.2 765.4 L912.9 766 L912.6 766.6 L912.2 767.2 L911.8 767.8 L911.2 768.3 L910.6 768.9 L909.8 769.4 L909 769.9 L908.2 770.3 L907.3 770.8 L906.3 771.2 L905.2 771.6 L904.1 771.9 L903 772.2 L901.8 772.5 L900.6 772.7 L899.3 772.9 L898.1 773 L896.8 773.1 L895.5 773.2 L894.1 773.2 L892.8 773.2 L891.5 773.1 L890.2 773 L889 772.9 L887.7 772.7 L886.5 772.5 L885.3 772.2 L884.2 771.9 L883.1 771.6 L882 771.2 L881 770.8 L880.1 770.3 L879.3 769.9 L878.5 769.4 L877.7 768.9 L877.1 768.3 L876.5 767.8 L876.1 767.2 L875.7 766.6 L875.4 766 L875.1 765.4 L875 764.8 L874.9 764.2 M912 748.6 L911.4 749.1 L910.8 749.6 L910.1 750.1 L909.3 750.6 L908.5 751 L907.5 751.5 L906.6 751.8 L905.5 752.2 L904.4 752.5 L903.3 752.8 L902.1 753.1 L900.8 753.3 L899.6 753.5 L898.3 753.6 L897 753.7 L895.7 753.8 L894.3 753.8 L893 753.8 L891.7 753.7 L890.4 753.6 L889.1 753.5 L887.8 753.3 L886.6 753.1 L885.4 752.9 L884.2 752.6 L883.1 752.3 L882 751.9 L881 751.6 L880.1 751.2 L879.2 750.7 M913.3 746.4 L914.6 745.9 L915.7 745.2 L916.8 744.6 L917.8 743.9 L918.6 743.2 L919.4 742.5 L920.1 741.7 L920.6 741 L921 740.2 L921.3 739.4 L921.5 738.6 L921.5 737.8 M921.5 737.8 L920.1 729.8 M1111 617 L1111 627.9 M1149.4 612.1 L1149.4 627.5 M1149.4 627.7 L1149.3 628.3 L1149.2 628.9 L1148.9 629.5 L1148.6 630.1 L1148.2 630.7 L1147.8 631.3 L1147.2 631.8 L1146.6 632.4 L1145.8 632.9 L1145 633.4 L1144.2 633.8 L1143.3 634.3 L1142.3 634.7 L1141.2 635.1 L1140.1 635.4 L1139 635.7 L1137.8 636 L1136.6 636.2 L1135.3 636.4 L1134.1 636.5 L1132.8 636.6 L1131.5 636.7 L1130.2 636.7 L1128.8 636.7 L1127.5 636.6 L1126.2 636.5 L1125 636.4 L1123.7 636.2 L1122.5 636 L1121.3 635.7 L1120.2 635.4 L1119.1 635.1 L1118 634.7 L1117 634.3 L1116.1 633.8 L1115.3 633.4 L1114.5 632.9 L1113.7 632.4 L1113.1 631.8 L1112.5 631.3 L1112.1 630.7 L1111.7 630.1 L1111.4 629.5 L1111.1 628.9 L1111 628.3 L1111 627.7 M1148 612.1 L1147.4 612.6 L1146.8 613.1 L1146.1 613.6 L1145.3 614.1 L1144.5 614.5 L1143.5 615 L1142.6 615.3 L1141.5 615.7 L1140.4 616 L1139.3 616.3 L1138.1 616.6 L1136.8 616.8 L1135.6 617 L1134.3 617.1 L1133 617.2 L1131.7 617.3 L1130.3 617.3 L1129 617.3 L1127.7 617.2 L1126.4 617.1 L1125.1 617 L1123.8 616.8 L1122.6 616.6 L1121.4 616.4 L1120.2 616.1 L1119.1 615.8 L1118 615.4 L1117 615.1 L1116.1 614.7 L1115.2 614.2 M1149.3 609.9 L1150.6 609.4 L1151.7 608.7 L1152.8 608.1 L1153.8 607.4 L1154.6 606.7 L1155.4 606 L1156.1 605.2 L1156.6 604.5 L1157 603.7 L1157.3 602.9 L1157.5 602.1 L1157.6 601.3 M1157.6 601.3 L1156.2 593.3 M656.5 764 L678 751.6 M887 897 L1383 610.6"/>
<path d="M911 912 L1053.6 829.7 M1254.3 535.2 L1383 609.5 M1383.8 611.1 L1384.6 634.6 M1382.4 612.1 L1383.3 634.6 M1269.5 526.6 L1309.5 545.5 M1309.5 545 L1309.5 566 M1308.2 546 L1308.2 565 M1053.5 829.2 L1053.5 866.3 M1053.5 973 L1053.5 1375.5 M1174.5 920.4 L1174.5 1445.4 M1196.5 907.9 L1196.5 1432.9 M1053.5 1375.5 L1174.5 1445.4 M1174.5 1445.4 L1196.5 1432.9 M1174.5 920.9 L1196.5 908.4 M1053.6 846.9 L1053.9 842.4 L1054.6 838 L1055.5 833.9 L1056.7 830 L1058.1 826.3 L1059.9 823 L1061.9 819.9 L1064.1 817.1 L1066.6 814.7 L1069.3 812.6 L1072.2 810.8 L1075.3 809.4 L1078.5 808.4 L1082 807.7 L1085.6 807.4 L1089.3 807.4 L1093.2 807.9 L1097.1 808.6 L1101.1 809.8 L1105.2 811.3 L1109.4 813.1 L1113.5 815.3 L1117.7 817.8 L1121.8 820.7 L1125.9 823.8 L1129.9 827.3 L1133.9 831 L1137.8 835 L1141.5 839.2 L1145.2 843.6 L1148.7 848.2 L1152 853 L1155.1 858 L1158.1 863 L1160.8 868.2 L1163.3 873.5 L1165.6 878.8 L1167.7 884.2 L1169.5 889.5 L1171 894.9 L1172.3 900.2 L1173.2 905.4 L1174 910.6 L1174.4 915.6 L1174.5 920.4 M1093.2 798.9 L1096.3 797.3 L1099.5 796.2 L1103 795.4 L1106.5 794.9 L1110.3 794.9 L1114.1 795.2 L1118.1 795.9 L1122.1 797 L1126.3 798.4 L1130.4 800.2 L1134.6 802.3 L1138.8 804.8 L1143 807.6 L1147.1 810.7 L1151.2 814.1 L1155.2 817.8 L1159.2 821.8 L1163 826 L1166.7 830.4 L1170.2 835.1 L1173.6 839.9 L1176.8 844.9 L1179.8 850 L1182.6 855.2 L1185.1 860.5 L1187.5 865.9 L1189.5 871.3 L1191.4 876.7 L1192.9 882.1 L1194.2 887.5 L1195.2 892.8 L1195.9 898 L1196.4 903 L1196.5 907.9 M1071.2 811.4 L1093.2 798.9 M1056.8 974 L1058.4 973 L1059.9 971.8 L1061.2 970.3 L1062.4 968.7 L1063.5 967 L1064.4 965 L1065.2 963 L1065.8 960.7 L1066.2 958.4 L1066.5 955.9 L1066.7 953.3 L1066.7 950.6 L1066.5 947.8 L1066.1 945 L1065.6 942.1 L1065 939.1 L1064.2 936.2 L1063.2 933.2 L1062.1 930.2 L1060.9 927.2 L1059.5 924.2 L1058 921.3 L1056.4 918.5 L1054.7 915.7 L1052.9 913 L1051 910.4 L1049 907.9 L1046.9 905.5 L1044.7 903.2 L1042.5 901.1 L1040.3 899.2 L1038 897.4 L1035.7 895.7 L1033.4 894.3 L1031.1 893 L1028.8 891.9 L1026.5 891.1 L1024.2 890.4 L1022 889.9 L1019.8 889.6 L1017.7 889.5 L1015.7 889.7 L1013.8 890 L1011.9 890.6 L1010.2 891.3 L1008.5 892.3 L1007 893.4 L1005.6 894.7 L1004.4 896.2 L1003.2 897.9 L1002.2 899.8 L1001.4 901.8 L1000.7 903.9 L1000.2 906.2 L999.8 908.7 L999.6 911.2 L999.5 913.8 L999.6 916.6 L999.9 919.4 L1000.3 922.3 L1000.9 925.2 L1001.6 928.1 L1002.5 931.1 L1003.5 934.1 L1004.7 937.1 L1006 940.1 L1007.4 943 L1008.9 945.9 L1010.6 948.7 L1012.4 951.5 L1014.3 954.1 L1016.2 956.7 L1018.3 959.1 L1020.4 961.5 L1022.6 963.6 L1024.8 965.7 L1027 967.6 L1029.3 969.3 L1031.7 970.8 L1034 972.2 L1036.3 973.3 L1038.6 974.3 L1040.9 975.1 L1043.1 975.7 L1045.3 976.1 L1047.4 976.2 L1049.5 976.2 L1051.5 976 L1053.4 975.5 L1055.2 974.9 L1056.8 974 M1009.3 891.8 L1090.7 844.8 M1056.8 974 L1138.2 927.1 M1090.7 844.8 L1092.3 844 L1094.1 843.3 L1096 842.9 L1097.9 842.7 L1100 842.6 L1102.1 842.8 L1104.2 843.1 L1106.4 843.7 L1108.7 844.4 L1111 845.4 L1113.3 846.5 L1115.5 847.9 L1117.8 849.4 L1120.1 851 L1122.4 852.9 L1124.6 854.9 L1126.7 857 L1128.8 859.3 L1130.9 861.7 L1132.8 864.2 L1134.7 866.8 L1136.5 869.5 L1138.1 872.2 L1139.7 875.1 L1141.2 878 L1142.5 880.9 L1143.7 883.9 L1144.7 886.8 L1145.6 889.8 L1146.4 892.7 L1147 895.6 L1147.5 898.5 L1147.8 901.3 L1148 904 L1148 906.7 L1147.8 909.2 L1147.5 911.7 L1147 914 L1146.4 916.2 L1145.6 918.2 L1144.7 920.1 L1143.7 921.9 L1142.5 923.4 L1141.2 924.8 L1139.7 926.1 L1138.2 927.1 M1112.9 787.3 L1115.9 785.8 L1119.1 784.6 L1122.5 783.8 L1126.1 783.4 L1129.8 783.3 L1133.6 783.6 L1137.5 784.3 L1141.5 785.3 L1145.5 786.7 L1149.6 788.4 L1153.8 790.5 L1157.9 792.9 L1162.1 795.6 L1166.2 798.6 L1170.2 802 L1174.2 805.6 L1178.1 809.4 L1181.9 813.6 L1185.6 817.9 L1189.1 822.4 L1192.5 827.2 L1195.7 832.1 L1198.7 837.1 L1201.5 842.2 L1204.1 847.5 L1206.5 852.8 L1208.6 858.1 L1210.5 863.4 L1212.1 868.8 L1213.5 874.1 L1214.6 879.3 L1215.4 884.5 L1216 889.6 L1216.2 894.5 L1216.2 899.3 L1215.9 903.9 L1215.3 908.2 L1214.4 912.4 L1213.2 916.4 L1211.8 920 L1210.1 923.4 L1208.2 926.5 L1206 929.3 L1203.6 931.8 L1200.9 934 L1198.1 935.8 L1195 937.3 M1093.2 798.9 L1112.9 787.3 M1132.4 780.2 L1135.3 778.7 L1138.4 777.6 L1141.6 776.9 L1145 776.4 L1148.5 776.4 L1152.1 776.6 L1155.9 777.3 L1159.7 778.2 L1163.5 779.5 L1167.5 781.2 L1171.4 783.1 L1175.4 785.4 L1179.3 788 L1183.3 790.9 L1187.1 794.1 L1190.9 797.5 L1194.7 801.2 L1198.3 805.1 L1201.8 809.3 L1205.2 813.6 L1208.4 818.1 L1211.5 822.7 L1214.4 827.5 L1217.1 832.4 L1219.6 837.4 L1221.9 842.5 L1223.9 847.6 L1225.8 852.7 L1227.3 857.8 L1228.7 862.9 L1229.7 867.9 L1230.5 872.8 L1231.1 877.7 L1231.3 882.4 L1231.3 886.9 L1231.1 891.4 L1230.5 895.6 L1229.7 899.6 L1228.7 903.4 L1227.3 906.9 L1225.8 910.2 L1223.9 913.2 L1221.9 915.9 L1219.6 918.3 L1217.1 920.4 L1214.4 922.2 M1115.9 786.8 L1132.4 780.2 M1132.4 780.2 L1594 513.7 M1196.5 932.5 L1676 655.7 M1594 513.7 L1596.9 512.2 L1600 511.1 L1603.2 510.4 L1606.6 509.9 L1610.1 509.9 L1613.7 510.1 L1617.5 510.8 L1621.3 511.7 L1625.1 513 L1629.1 514.7 L1633 516.6 L1637 518.9 L1640.9 521.5 L1644.9 524.4 L1648.7 527.6 L1652.5 531 L1656.3 534.7 L1659.9 538.6 L1663.4 542.7 L1666.8 547.1 L1670 551.6 L1673.1 556.2 L1676 561 L1678.7 565.9 L1681.2 570.9 L1683.5 576 L1685.5 581.1 L1687.4 586.2 L1688.9 591.3 L1690.3 596.4 L1691.3 601.4 L1692.1 606.3 L1692.7 611.2 L1692.9 615.9 L1692.9 620.4 L1692.7 624.8 L1692.1 629.1 L1691.3 633.1 L1690.3 636.9 L1688.9 640.4 L1687.4 643.7 L1685.5 646.7 L1683.5 649.4 L1681.2 651.8 L1678.7 653.9 L1676 655.7 M1606.5 695.9 L1606.5 1058.5 M1727.5 601.2 L1727.5 1128.4 M1749.1 588.7 L1749.1 1115.9 M1606.5 1058.5 L1727.5 1128.4 M1727.5 1128.4 L1749.1 1115.9 M1727.5 601.7 L1749.1 589.2 M1606.4 502.4 L1609.4 500.9 L1612.6 499.7 L1616 498.9 L1619.5 498.5 L1623.2 498.4 L1627 498.7 L1630.9 499.3 L1634.9 500.3 L1638.9 501.7 L1643 503.4 L1647.1 505.5 L1651.3 507.8 L1655.4 510.6 L1659.5 513.6 L1663.5 516.9 L1667.5 520.5 L1671.4 524.3 L1675.2 528.4 L1678.9 532.7 L1682.4 537.2 L1685.8 541.9 L1689 546.8 L1692 551.8 L1694.8 556.9 L1697.4 562.1 L1699.8 567.4 L1702 572.7 L1703.9 578 L1705.5 583.4 L1706.9 588.7 L1708 593.9 L1708.8 599.1 L1709.4 604.1 L1709.7 609 L1709.7 613.8 L1709.4 618.4 L1708.8 622.8 L1708 627 L1706.9 631 L1705.5 634.7 L1703.9 638.1 L1702 641.2 L1699.8 644.1 L1697.4 646.6 L1694.8 648.8 L1692 650.6 M1692 650.6 L1678 654.7 M1624.2 492.1 L1627.3 490.6 L1630.5 489.4 L1634 488.6 L1637.5 488.2 L1641.3 488.1 L1645.1 488.4 L1649.1 489.1 L1653.1 490.2 L1657.3 491.6 L1661.4 493.4 L1665.6 495.5 L1669.8 498 L1674 500.8 L1678.1 503.9 L1682.2 507.4 L1686.2 511.1 L1690.2 515 L1694 519.2 L1697.7 523.7 L1701.2 528.3 L1704.6 533.1 L1707.8 538.1 L1710.8 543.2 L1713.6 548.5 L1716.1 553.8 L1718.5 559.1 L1720.5 564.5 L1722.4 570 L1723.9 575.4 L1725.2 580.7 L1726.2 586 L1726.9 591.2 L1727.4 596.2 L1727.5 601.2 M1645.8 479.6 L1648.9 478.1 L1652.1 476.9 L1655.6 476.1 L1659.1 475.7 L1662.9 475.6 L1666.7 475.9 L1670.7 476.6 L1674.7 477.7 L1678.9 479.1 L1683 480.9 L1687.2 483 L1691.4 485.5 L1695.6 488.3 L1699.7 491.4 L1703.8 494.9 L1707.8 498.6 L1711.8 502.5 L1715.6 506.7 L1719.3 511.2 L1722.8 515.8 L1726.2 520.6 L1729.4 525.6 L1732.4 530.7 L1735.2 536 L1737.7 541.3 L1740.1 546.6 L1742.1 552 L1744 557.5 L1745.5 562.9 L1746.8 568.2 L1747.8 573.5 L1748.5 578.7 L1749 583.7 L1749.1 588.7 M1583 515.9 L1645.8 479.6 M1730.5 441.8 L1672.5 475.3"/>
<path d="M1806.5 573.4 L1753.5 604 M1730.5 441.8 L1733.2 440.5 L1736 439.4 L1739 438.7 L1742.2 438.3 L1745.4 438.3 L1748.8 438.5 L1752.2 439.1 L1755.8 440 L1759.4 441.2 L1763 442.7 L1766.7 444.5 L1770.3 446.7 L1774 449.1 L1777.6 451.7 L1781.2 454.7 L1784.8 457.9 L1788.2 461.3 L1791.6 464.9 L1794.8 468.7 L1798 472.8 L1801 476.9 L1803.8 481.2 L1806.5 485.7 L1809 490.2 L1811.3 494.9 L1813.4 499.5 L1815.3 504.3 L1817 509 L1818.5 513.7 L1819.7 518.4 L1820.7 523.1 L1821.5 527.7 L1822 532.1 L1822.2 536.5 L1822.2 540.8 L1822 544.8 L1821.5 548.7 L1820.7 552.5 L1819.7 556 L1818.5 559.3 L1817 562.3 L1815.3 565.1 L1813.4 567.6 L1811.3 569.8 L1809 571.8 L1806.5 573.4 M1531 739.4 L1531 991.4 M721.4 1147 L721.4 1147.7 L721.2 1148.4 L721 1149.1 L720.7 1149.8 L720.3 1150.5 L719.8 1151.1 L719.3 1151.8 L718.6 1152.4 L717.9 1153 L717.1 1153.6 L716.3 1154.1 L715.4 1154.6 L714.4 1155.1 L713.4 1155.5 L712.3 1155.9 L711.2 1156.2 L710 1156.5 L708.8 1156.8 L707.6 1157 L706.3 1157.1 L705 1157.2 L703.8 1157.3 L702.5 1157.3 L701.2 1157.3 L699.9 1157.2 L698.7 1157 L697.4 1156.9 L696.2 1156.6 L695 1156.4 L693.9 1156 L692.8 1155.7 L691.7 1155.3 L690.7 1154.8 L689.8 1154.3 L688.9 1153.8 L688.1 1153.3 L687.3 1152.7 L686.6 1152.1 L686 1151.5 L685.5 1150.8 L685.1 1150.1 L684.7 1149.5 L684.5 1148.8 L684.3 1148.1 L684.2 1147.4 L684.2 1146.6 L684.3 1145.9 L684.5 1145.2 L684.7 1144.5 L685.1 1143.9 L685.5 1143.2 L686 1142.5 L686.6 1141.9 L687.3 1141.3 L688.1 1140.7 L688.9 1140.2 L689.8 1139.7 L690.7 1139.2 L691.7 1138.7 L692.8 1138.3 L693.9 1138 L695 1137.6 L696.2 1137.4 L697.4 1137.1 L698.7 1137 L699.9 1136.8 L701.2 1136.7 L702.5 1136.7 L703.8 1136.7 L705 1136.8 L706.3 1136.9 L707.6 1137 L708.8 1137.2 L710 1137.5 L711.2 1137.8 L712.3 1138.1 L713.4 1138.5 L714.4 1138.9 L715.4 1139.4 L716.3 1139.9 L717.1 1140.4 L717.9 1141 L718.6 1141.6 L719.3 1142.2 L719.8 1142.9 L720.3 1143.5 L720.7 1144.2 L721 1144.9 L721.2 1145.6 L721.4 1146.3 L721.4 1147 M684.2 1147 L684.2 1166.5 M721.4 1147 L721.4 1189 M721.4 1152 L721.4 1152.7 L721.2 1153.4 L721 1154.1 L720.7 1154.8 L720.3 1155.4 L719.9 1156.1 L719.3 1156.7 L718.7 1157.4 L718 1157.9 L717.2 1158.5 L716.4 1159 L715.5 1159.5 L714.5 1160 L713.5 1160.4 L712.5 1160.8 L711.4 1161.1 L710.2 1161.4 L709 1161.7 L707.8 1161.9 L706.6 1162.1 L705.3 1162.2 L704.1 1162.3 L702.8 1162.3 L701.5 1162.3 L700.3 1162.2 L699 1162.1 L697.8 1161.9 L696.6 1161.7 L695.4 1161.4 L694.2 1161.1 L693.1 1160.8 L692.1 1160.4 L691.1 1160 L690.1 1159.5 L689.2 1159 L688.4 1158.5 L687.6 1157.9 L686.9 1157.4 L686.3 1156.7 L685.7 1156.1 L685.3 1155.4 L684.9 1154.8 L684.6 1154.1 L684.4 1153.4 L684.2 1152.7 L684.2 1152 M721.4 1155 L721.4 1155.7 L721.2 1156.4 L721 1157.1 L720.7 1157.8 L720.3 1158.4 L719.9 1159.1 L719.3 1159.7 L718.7 1160.4 L718 1160.9 L717.2 1161.5 L716.4 1162 L715.5 1162.5 L714.5 1163 L713.5 1163.4 L712.5 1163.8 L711.4 1164.1 L710.2 1164.4 L709 1164.7 L707.8 1164.9 L706.6 1165.1 L705.3 1165.2 L704.1 1165.3 L702.8 1165.3 L701.5 1165.3 L700.3 1165.2 L699 1165.1 L697.8 1164.9 L696.6 1164.7 L695.4 1164.4 L694.2 1164.1 L693.1 1163.8 L692.1 1163.4 L691.1 1163 L690.1 1162.5 L689.2 1162 L688.4 1161.5 L687.6 1160.9 L686.9 1160.4 L686.3 1159.7 L685.7 1159.1 L685.3 1158.4 L684.9 1157.8 L684.6 1157.1 L684.4 1156.4 L684.2 1155.7 L684.2 1155 M721.4 1158 L721.4 1158.7 L721.2 1159.4 L721 1160.1 L720.7 1160.8 L720.3 1161.4 L719.9 1162.1 L719.3 1162.7 L718.7 1163.4 L718 1163.9 L717.2 1164.5 L716.4 1165 L715.5 1165.5 L714.5 1166 L713.5 1166.4 L712.5 1166.8 L711.4 1167.1 L710.2 1167.4 L709 1167.7 L707.8 1167.9 L706.6 1168.1 L705.3 1168.2 L704.1 1168.3 L702.8 1168.3 L701.5 1168.3 L700.3 1168.2 L699 1168.1 L697.8 1167.9 L696.6 1167.7 L695.4 1167.4 L694.2 1167.1 L693.1 1166.8 L692.1 1166.4 L691.1 1166 L690.1 1165.5 L689.2 1165 L688.4 1164.5 L687.6 1163.9 L686.9 1163.4 L686.3 1162.7 L685.7 1162.1 L685.3 1161.4 L684.9 1160.8 L684.6 1160.1 L684.4 1159.4 L684.2 1158.7 L684.2 1158 M720.3 1164 L719.8 1164.7 L719.3 1165.3 L718.6 1165.9 L717.9 1166.5 L717.2 1167 L716.3 1167.6 L715.4 1168.1 L714.5 1168.5 L713.5 1168.9 L712.4 1169.3 L711.3 1169.7 L710.2 1170 L709 1170.2 L707.8 1170.4 L706.6 1170.6 L705.3 1170.7 L704.1 1170.8 L702.8 1170.8 L701.5 1170.8 L700.3 1170.7 L699 1170.6 L697.8 1170.4 L696.6 1170.2 L695.4 1170 L694.3 1169.7 L693.2 1169.3 L692.1 1168.9 L691.1 1168.5 L690.2 1168.1 L689.3 1167.6 L688.4 1167 L687.7 1166.5 L687 1165.9 L686.3 1165.3 L685.8 1164.7 L685.3 1164 M721.2 1187.4 L721.1 1188.1 L720.9 1188.7 L720.6 1189.4 L720.2 1190.1 L719.8 1190.7 L719.3 1191.3 L718.7 1191.9 L718 1192.5 L717.3 1193 L716.5 1193.5 L715.7 1194 L714.8 1194.4 L713.9 1194.9 L712.9 1195.2 L711.9 1195.5 L710.8 1195.8 L709.8 1196 L708.7 1196.2 L707.5 1196.4 L706.4 1196.5 L705.3 1196.5 L704.1 1196.5 L703 1196.4 L701.9 1196.3 L700.7 1196.2 L699.6 1196 L698.6 1195.8 L697.5 1195.5 L696.5 1195.1 L695.5 1194.8 L694.6 1194.4 L693.7 1193.9 L692.9 1193.4 L692.2 1192.9 M683.3 1201.4 L683.9 1201 L684.4 1200.6 L684.8 1200.1 L685.2 1199.5 L685.6 1198.9 L685.9 1198.2 L686.2 1197.5 L686.4 1196.7 L686.6 1195.9 L686.7 1195 L686.7 1194.1 L686.7 1193.2 L686.7 1192.2 L686.5 1191.2 L686.4 1190.2 L686.1 1189.2 L685.9 1188.1 L685.5 1187.1 L685.1 1186 L684.7 1185 L684.2 1184 L683.7 1183 L683.2 1182 L682.6 1181 L681.9 1180 L681.2 1179.1 L680.5 1178.3 L679.8 1177.4 L679.1 1176.6 L678.3 1175.9 L677.5 1175.2 L676.7 1174.6 L675.9 1174 L675.1 1173.5 L674.3 1173.1 L673.5 1172.7 L672.7 1172.4 L671.9 1172.1 L671.1 1172 L670.4 1171.9 L669.6 1171.8 L668.9 1171.9 L668.2 1172 L667.6 1172.2 L667 1172.5 L666.4 1172.8 L665.9 1173.2 L665.4 1173.7 L665 1174.2 L664.6 1174.8 L664.2 1175.4 L663.9 1176.1 L663.7 1176.9 L663.5 1177.7 L663.4 1178.5 L663.3 1179.4 L663.3 1180.3 L663.3 1181.3 L663.4 1182.3 L663.5 1183.3 L663.7 1184.3 L664 1185.3 L664.3 1186.4 L664.7 1187.4 L665.1 1188.5 L665.5 1189.5 L666 1190.5 L666.6 1191.5 L667.1 1192.5 L667.8 1193.5 L668.4 1194.4 L669.1 1195.3 L669.8 1196.2 L670.6 1197 L671.3 1197.7 L672.1 1198.5 L672.9 1199.1 L673.7 1199.7 L674.5 1200.2 L675.3 1200.7 L676.1 1201.1 L676.9 1201.5 L677.7 1201.8 L678.5 1202 L679.3 1202.1 L680 1202.1 L680.7 1202.1 L681.4 1202.1 L682.1 1201.9 L682.7 1201.7 L683.3 1201.4 M666.7 1172.6 L684.3 1166.2 M683.3 1201.4 L690.3 1193.6 M691.5 1167.5 L698.5 1173 L703.5 1178.5 L705.3 1182.6 L702 1186.5 L696 1190.5 L690.5 1193.5 M721.6 1144.5 L727.5 1145 L732.5 1149 L736.5 1155 L738.3 1161.5 L736.5 1167.5 L731.5 1172 L723 1175.3 M538 70 L578 70 L636.5 210 M239 215 L276 215 L334 354 M74 348.3 L115 348.3 L327 410 M204 472.5 L241 472.5 L298.5 611.5 M678 345 L714 345 L894 605.5 M618 410 L656.5 410 L714 549 M1259 165 L1218 165 L1077 363.5 M1432 272.5 L1393 272.5 L1240 471.5 M1802.5 349.5 L1762.5 349.5 L1539 610 M1902.5 586 L1862.5 586 L1791 521 M1825 730.5 L1786 730.5 L1695 594 M1821 846 L1780 846 L1684 896.5 M147.5 1099 L187.5 1099 L625 947 M737.5 1471 L776 1471 L870 1335 M872.5 1537 L912.5 1537 L1086 909.7 M1085 1560.7 L1124 1560.7 L1180 1699 M1012.5 1737 L1052.5 1737 L1159 1775.5"/>
</g></defs>
<g fill="none" stroke="#000" stroke-opacity="0.12" stroke-width="6.5" stroke-linecap="round" stroke-linejoin="round"><use href="#lines"/></g>
<g fill="none" stroke="#1a1a1a" stroke-width="2.7" stroke-linecap="round" stroke-linejoin="round"><use href="#lines"/></g>
<g font-family="'Liberation Sans', sans-serif" font-size="60" fill="#000">
<text font-size="100" transform="translate(468.6 93.1) scale(0.6000 0.6333)">14</text>
<text font-size="100" transform="translate(171.4 238) scale(0.5608 0.6386)">15</text>
<text font-size="100" transform="translate(6.1 370.5) scale(0.6010 0.6366)">13</text>
<text font-size="100" transform="translate(136 494.6) scale(0.6071 0.6314)">12</text>
<text font-size="100" transform="translate(605.8 367.6) scale(0.6376 0.6406)">17</text>
<text font-size="100" transform="translate(546.6 432.5) scale(0.6157 0.6296)">37</text>
<text font-size="100" transform="translate(1258.2 187.4) scale(0.6097 0.6507)">36</text>
<text font-size="100" transform="translate(1428.9 295.5) scale(0.6312 0.6437)">16</text>
<text font-size="100" transform="translate(1801.5 373.1) scale(0.5443 0.6333)">11</text>
<text font-size="100" transform="translate(1901.2 608.5) scale(0.5880 0.6296)">10</text>
<text font-size="100" transform="translate(1824.7 753.5) scale(0.6516 0.6437)">9</text>
<text font-size="100" transform="translate(1821.9 870.1) scale(0.6440 0.6406)">7</text>
<text font-size="100" transform="translate(109.3 1123.1) scale(0.6396 0.6478)">4</text>
<text font-size="100" transform="translate(708 1492.6) scale(0.5893 0.6406)">1</text>
<text font-size="100" transform="translate(836.2 1559.9) scale(0.6447 0.6507)">8</text>
<text font-size="100" transform="translate(1047.4 1584.1) scale(0.6330 0.6529)">2</text>
<text font-size="100" transform="translate(978.7 1759.5) scale(0.5958 0.6437)">3</text>
</g>
</g>
</svg>
</body></html>
